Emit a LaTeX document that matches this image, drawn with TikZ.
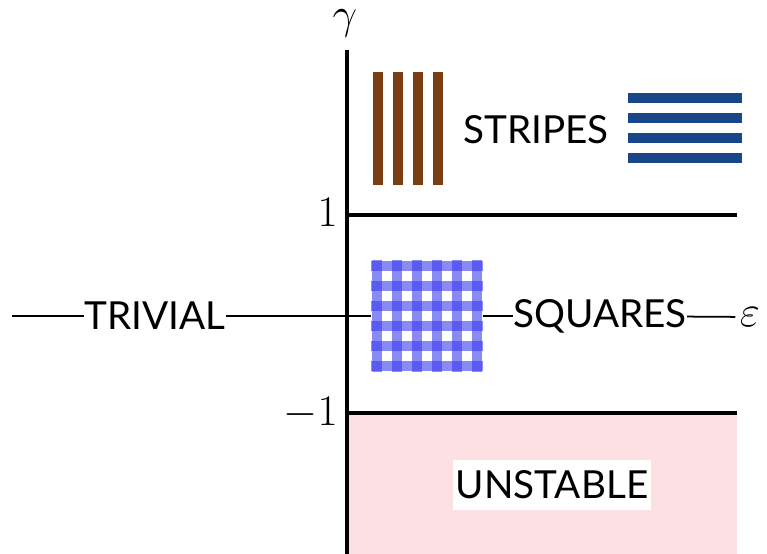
\documentclass[tikz,border=0pt]{standalone}
\usepackage{fontspec}
\newfontfamily\labelfont{Lato}
\usetikzlibrary{positioning}
\definecolor{unstablepink}{RGB}{253,224,228}
\definecolor{stripebrown}{RGB}{122,62,18}
\definecolor{stripeblue}{RGB}{24,70,136}
\definecolor{gridblue}{RGB}{60,60,240}

\begin{document}
\begin{tikzpicture}[x=0.02cm,y=-0.02cm,
    every node/.style={font=\labelfont\fontsize{22}{26}\selectfont, inner sep=0pt},
    axis/.style={line width=2.2pt},
    thinaxis/.style={line width=1pt},
    mathlabel/.style={font=\fontsize{24.88}{28}\selectfont},
    gridline/.style={gridblue, opacity=0.6, line width=5.6pt}]
    \useasboundingbox (0,0) rectangle (767,554);
    % unstable region
    \fill[unstablepink] (347,413) rectangle (737,554);
    % axes and phase boundaries
    \draw[axis] (347,554) -- (347,50);
    \draw[axis] (347,215) -- (737,215);
    \draw[axis] (347,413) -- (737,413);
    \node[mathlabel] (gam) at (345,23) {$\gamma$};
    \node[mathlabel, anchor=east] (one) at (338,212) {$1$};
    \node[mathlabel, anchor=east] (mone) at (338,413) {$-1$};
    % stripes
    \foreach \i in {0,...,3} {
        \fill[stripebrown] (373+20*\i,72) rectangle ++(10,113);
        \fill[stripeblue] (628,93+20*\i) rectangle ++(114,10);
    }
    \node (stripes) at (536,130) {STRIPES};
    % squares patch
    \node[fill=white, minimum width=2.24cm, minimum height=2.24cm] (sq) at (427,316) {};
    \foreach \k in {0,...,5} {
        \draw[gridline] (377+20*\k,260) -- (377+20*\k,372);
        \draw[gridline] (371,266+20*\k) -- (483,266+20*\k);
    }
    % horizontal axis
    \coordinate (hstart) at (12,316);
    \node (triv) at (155,316) {TRIVIAL};
    \node (sqlab) at (600,316) {SQUARES};
    \node[mathlabel, inner xsep=2.5pt] (eps) at (750,317) {$\varepsilon$};
    \draw[thinaxis] (hstart) -- (triv);
    \draw[thinaxis] (triv) -- (sq);
    \draw[thinaxis] (sq) -- (sqlab);
    \draw[thinaxis] (sqlab) -- (eps);
    \node[fill=white, minimum width=3.98cm, minimum height=1cm] (unst) at (552,485) {UNSTABLE};
\end{tikzpicture}
\end{document}
